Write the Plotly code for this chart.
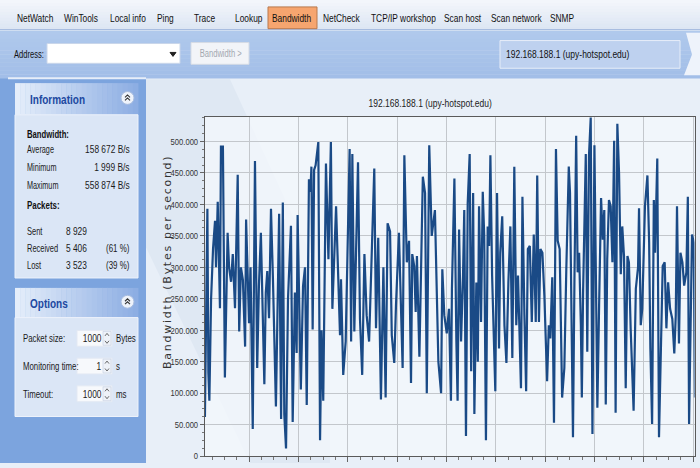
import json
import plotly.graph_objects as go

# ---------------- data ----------------
time_s = [2.0, 3.0, 3.4, 3.8, 4.5, 5.3, 6.1, 6.5, 7.2, 7.7, 8.1, 8.5, 9.3, 10.1, 11.2, 11.8, 12.6, 13.3, 14.2, 15.3,
          15.9, 16.6, 17.4, 18.3, 18.7, 19.9, 20.5, 21.4, 22.3, 23.2, 23.9, 24.7, 25.4, 26.1, 26.7, 27.3, 28.0, 28.8, 29.6, 30.8,
          32.1, 32.9, 33.6, 34.2, 34.9, 35.7, 36.9, 37.6, 38.5, 39.2, 39.6, 40.9, 41.8, 42.6, 43.3, 44.2, 44.8, 45.2, 45.7, 46.3,
          46.9, 47.3, 48.0, 48.7, 49.3, 50.0, 51.1, 52.1, 53.1, 53.7, 55.2, 56.1, 56.8, 57.2, 58.1, 59.1, 60.7, 61.3, 61.8, 62.6,
          63.2, 64.1, 64.9, 65.8, 66.7, 67.6, 68.6, 69.7, 70.7, 71.4, 72.3, 73.4, 74.4, 75.3, 76.1, 77.1, 77.8, 78.8, 79.5, 80.7,
          82.2, 82.9, 83.9, 84.8, 85.6, 86.1, 86.9, 87.5, 88.0, 89.0, 90.4, 91.3, 92.0, 93.0, 94.0, 95.3, 96.7, 97.8, 98.3, 99.1,
          100.1, 101.0, 101.8, 102.2, 103.2, 104.0, 104.5, 105.1, 105.9, 106.7, 107.2, 107.9, 108.6, 109.4, 110.0, 110.8, 111.3, 112.1, 112.7, 113.2,
          114.0, 114.7, 115.3, 116.0, 116.7, 117.3, 117.8, 118.5, 119.2, 119.8, 120.5, 121.3, 121.8, 122.6, 123.5, 124.3, 125.1, 125.9, 126.7, 127.5,
          128.3, 129.0, 130.2, 130.8, 131.6, 132.3, 133.0, 133.8, 134.6, 135.4, 136.2, 136.8, 137.5, 138.1, 138.9, 139.7, 140.8, 141.5, 142.1, 142.9,
          143.6, 144.4, 145.1, 145.9, 146.9, 147.8, 148.6, 149.6, 150.1, 150.8, 151.3, 151.9, 152.6, 153.2, 153.8, 154.5, 154.9, 155.4, 156.5, 157.1,
          157.8, 158.5, 159.2, 160.0, 160.5, 161.2, 161.9, 162.7, 163.4, 164.0, 164.6, 165.2, 165.9, 166.6, 167.3, 168.0, 168.6, 169.3, 170.0, 170.7,
          171.3, 172.0, 172.7, 173.4, 174.0, 174.7, 175.9, 176.8, 177.7, 178.1, 178.8, 179.4, 180.5, 181.5, 182.2, 182.7, 183.4, 184.1, 184.6, 185.5,
          186.2, 187.0, 187.7, 188.5, 189.2, 189.9, 190.7, 191.6, 192.4, 193.0, 193.5, 194.3, 194.9, 195.7, 196.4, 197.3, 197.9, 198.4, 198.9, 199.6,
          200.3, 200.8]

bandwidth_kBps = [62, 393, 132, 88, 250, 330, 374, 300, 404, 300, 235, 492, 492, 125, 355, 300, 277, 321, 235, 447,
                  198, 300, 280, 174, 376, 211, 300, 43, 469, 140, 270, 355, 250, 114, 260, 294, 219, 393, 280, 79,
                  385, 59, 403, 66, 12, 250, 366, 54, 260, 164, 383, 106, 270, 300, 81, 440, 420, 460, 201, 455,
                  462, 480, 499, 25, 200, 88, 465, 313, 499, 234, 397, 281, 192, 281, 129, 182, 488, 182, 480, 198,
                  292, 467, 218, 129, 321, 224, 182, 318, 457, 203, 347, 90, 300, 93, 370, 357, 192, 148, 239, 355,
                  140, 478, 308, 342, 116, 321, 302, 229, 318, 158, 444, 418, 100, 494, 350, 391, 150, 100, 297, 224,
                  195, 234, 88, 266, 441, 182, 88, 360, 182, 287, 391, 32, 402, 480, 135, 418, 67, 276, 150, 397,
                  213, 420, 350, 25, 365, 334, 478, 287, 171, 103, 418, 171, 323, 381, 208, 148, 276, 365, 156, 460,
                  208, 287, 108, 412, 224, 103, 329, 334, 213, 352, 213, 446, 213, 329, 323, 255, 119, 208, 187, 284,
                  53, 488, 342, 329, 93, 140, 297, 460, 418, 161, 30, 281, 509, 292, 323, 208, 93, 260, 480, 166,
                  478, 538, 35, 494, 313, 77, 239, 410, 344, 391, 82, 313, 407, 397, 308, 501, 69, 528, 449, 289,
                  365, 318, 108, 318, 308, 203, 72, 266, 300, 394, 208, 234, 397, 446, 339, 171, 51, 407, 323, 473,
                  30, 192, 302, 308, 203, 276, 234, 218, 163, 224, 397, 179, 323, 308, 271, 292, 412, 51, 203, 352,
                  339, 93]
bandwidth_Bps = [v * 1000 for v in bandwidth_kBps]

y_tick_values = [0, 50000, 100000, 150000, 200000, 250000, 300000, 350000, 400000, 450000, 500000]
y_tick_labels = ["0", "50.000", "100.000", "150.000", "200.000", "250.000", "300.000", "350.000",
                 "400.000", "450.000", "500.000"]

chart_title = "192.168.188.1 (upy-hotspot.edu)"
y_axis_title = "Bandwidth (Bytes per second)"

menu_labels = ["NetWatch", "WinTools", "Local info", "Ping", "Trace", "Lookup", "Bandwidth",
               "NetCheck", "TCP/IP workshop", "Scan host", "Scan network", "SNMP"]
active_menu = "Bandwidth"

info_title = "Information"
bw_heading = "Bandwidth:"
bw_labels = ["Average", "Minimum", "Maximum"]
bw_values = ["158 672 B/s", "1 999 B/s", "558 874 B/s"]
pk_heading = "Packets:"
pk_labels = ["Sent", "Received", "Lost"]
pk_counts = ["8 929", "5 406", "3 523"]
pk_pcts = ["", "(61 %)", "(39 %)"]

options_title = "Options"
opt_labels = ["Packet size:", "Monitoring time:", "Timeout:"]
opt_values = ["1000", "1", "1000"]
opt_units = ["Bytes", "s", "ms"]

address_label = "Address:"
button_label = "Bandwidth >"
host_label = "192.168.188.1 (upy-hotspot.edu)"

# ---------------- layout helpers (pixel -> paper) ----------------
W, H = 700, 468
UI_FONT = "Liberation Sans, Arial, sans-serif"

# horizontal squeeze of each text (the source screenshot uses a narrow UI face)
squeeze = {}


def px(x):
    return x / W


def py(y):
    return 1 - y / H


shapes = []
annotations = []


def rect(x0, y0, x1, y1, fill, line=None, lw=1):
    shapes.append(dict(type="rect", xref="paper", yref="paper", layer="below",
                       x0=px(x0), x1=px(x1), y0=py(y1), y1=py(y0), fillcolor=fill,
                       line=dict(color=line if line else fill, width=lw if line else 0)))


def hline(x0, x1, y, color, lw=1):
    shapes.append(dict(type="line", xref="paper", yref="paper", layer="below",
                       x0=px(x0), x1=px(x1), y0=py(y), y1=py(y), line=dict(color=color, width=lw)))


def path(points, color, lw=1.2, fill=None, closed=False, layer="above"):
    d = "M " + " L ".join(f"{px(x):.5f},{py(y):.5f}" for x, y in points)
    if closed:
        d += " Z"
    shapes.append(dict(type="path", xref="paper", yref="paper", layer=layer, path=d,
                       fillcolor=fill if fill else "rgba(0,0,0,0)", line=dict(color=color, width=lw)))


def text(x, y, s, size=11, color="#1a1a1a", anchor="left", bold=False, family=UI_FONT, angle=0, sq=0.72):
    squeeze[s] = sq
    annotations.append(dict(xref="paper", yref="paper", x=px(x), y=py(y), text=f"<b>{s}</b>" if bold else s,
                            showarrow=False, xanchor=anchor, yanchor="middle", textangle=angle,
                            align=anchor if anchor in ("left", "right") else "center",
                            borderpad=0, font=dict(family=family, size=size, color=color)))


def hex2rgb(h):
    h = h.lstrip("#")
    return tuple(int(h[i:i + 2], 16) for i in (0, 2, 4))


def hgrad(x0, y0, x1, y1, c0, c1, n=24):
    a, b = hex2rgb(c0), hex2rgb(c1)
    step = (x1 - x0) / n
    for i in range(n):
        f = i / (n - 1)
        c = tuple(round(a[k] + (b[k] - a[k]) * f) for k in range(3))
        rect(x0 + i * step, y0, x0 + (i + 1) * step + 0.4, y1, "rgb(%d,%d,%d)" % c)


def vgrad(x0, y0, x1, y1, c0, c1, n=12):
    a, b = hex2rgb(c0), hex2rgb(c1)
    step = (y1 - y0) / n
    for i in range(n):
        f = i / (n - 1)
        c = tuple(round(a[k] + (b[k] - a[k]) * f) for k in range(3))
        rect(x0, y0 + i * step, x1, y0 + (i + 1) * step + 0.4, "rgb(%d,%d,%d)" % c)


# ---------------- window chrome ----------------
vgrad(0, 0, 700, 30, "#f3f6fb", "#dde6f3", n=10)
hline(0, 700, 30, "#9db5dc", 1)
vgrad(0, 31, 700, 79, "#b0c9ec", "#a2bee8", n=12)
path([(686, 33), (700, 33), (700, 76), (684, 76), (692, 55)], "#eef3fb", lw=0, fill="#eef3fb",
     closed=True, layer="below")

# menu tabs
menu_x = [16, 63, 109, 156, 193, 234, 271, 322, 370, 443, 490, 549]
for lbl, x in zip(menu_labels, menu_x):
    if lbl == active_menu:
        rect(268, 7, 317, 29, "#f6a56f", line="#b9784c", lw=1)
    text(x, 18, lbl, size=11, color="#111111", sq=0.76)

# address row
text(13, 55, address_label, size=10.5, color="#111111", sq=0.72)
rect(47, 44, 180, 64, "#ffffff", line="#c9d6ea", lw=1)
path([(170, 53), (176, 53), (173, 57)], "#222222", lw=1, fill="#222222", closed=True)
rect(191, 43, 249, 65, "#f2f4f8", line="#d5dbe5", lw=1)
text(220, 54, button_label, size=10, color="#a3a8b0", anchor="center", sq=0.76)
rect(500, 41, 680, 69, "#bed1ef", line="#e6edf8", lw=1)

# left side panel
rect(0, 79, 146, 468, "#7ca4de")
hline(8, 146, 79, "#e7eef9", 2)


def panel(y_head0, y_head1, y_body1, title):
    hgrad(15, y_head0, 138, y_head1, "#e4edfa", "#8daee3")
    rect(15, y_head1, 138, y_body1, "#dbe6f6", line="#edf2fb", lw=1)
    text(29, (y_head0 + y_head1) / 2 + 1, title, size=12.5, color="#2048a0", bold=True, sq=0.8)
    cx, cy = 127.5, (y_head0 + y_head1) / 2 - 1
    shapes.append(dict(type="circle", xref="paper", yref="paper", layer="above",
                       x0=px(cx - 6.5), x1=px(cx + 6.5), y0=py(cy + 6.5), y1=py(cy - 6.5),
                       fillcolor="#eef3fb", line=dict(color="#a8bde0", width=1)))
    path([(125, cy - 0.5), (127.5, cy - 3), (130, cy - 0.5)], "#333333", lw=1.1)
    path([(125, cy + 2.5), (127.5, cy), (130, cy + 2.5)], "#333333", lw=1.1)


panel(84, 116, 281, info_title)
text(26, 135, bw_heading, size=11, color="#111111", bold=True, sq=0.7)
for i, (lbl, val) in enumerate(zip(bw_labels, bw_values)):
    y = 151 + i * 18
    text(26, y, lbl, size=11, sq=0.66)
    text(131, y, val, size=11, anchor="right", sq=0.76)
text(26, 207, pk_heading, size=11, color="#111111", bold=True, sq=0.72)
for i, (lbl, cnt, pct) in enumerate(zip(pk_labels, pk_counts, pk_pcts)):
    y = 233 + i * 17.6
    text(26, y, lbl, size=11, sq=0.68)
    text(65, y, cnt, size=11, sq=0.76)
    if pct:
        text(130, y, pct, size=11, anchor="right", sq=0.72)

panel(291, 321, 421, options_title)
for i, (lbl, val, unit) in enumerate(zip(opt_labels, opt_values, opt_units)):
    y = 342 + i * 28
    text(22, y, lbl, size=11, sq=0.71)
    rect(77, y - 8, 112, y + 8, "#f7f9fc", line="#e3e9f3", lw=1)
    rect(103, y - 7, 111, y + 7, "#eef2f8", line="#c3cfe2", lw=0.6)
    path([(105, y - 2.5), (107, y - 5), (109, y - 2.5)], "#444444", lw=0.8)
    path([(105, y + 2.5), (107, y + 5), (109, y + 2.5)], "#444444", lw=0.8)
    text(102, y, val, size=11, anchor="right", sq=0.76)
    text(115, y, unit, size=11, sq=0.72)

# chart area background (with a faint watermark)
rect(146, 80, 700, 468, "#e8eff8")
path([(146, 80), (230, 80), (330, 300), (330, 468), (250, 468), (146, 250)], "#dfe8f3", lw=0,
     fill="#dfe8f3", closed=True, layer="below")
rect(205, 118, 694.5, 461, "rgba(244,248,252,0.75)")

# ---------------- chart ----------------
fig = go.Figure()
fig.add_trace(go.Scatter(x=time_s, y=bandwidth_Bps, mode="lines",
                         line=dict(color="#1a4a86", width=2.2), hoverinfo="skip", showlegend=False))

text(429.5, 104, chart_title, size=10.5, color="#222222", anchor="center", sq=0.81)
text(167.5, 266, y_axis_title, size=11, color="#333333", anchor="center",
     family="DejaVu Sans, Verdana, sans-serif", angle=-90, sq=1.28)
text(505, 55, host_label, size=10.5, color="#111111", sq=0.81)
for lbl in y_tick_labels:
    squeeze[lbl] = 0.8

fig.update_layout(
    width=W, height=H, autosize=False,
    margin=dict(l=0, r=0, t=0, b=0),
    paper_bgcolor="#e8eff8", plot_bgcolor="rgba(0,0,0,0)",
    shapes=shapes, annotations=annotations,
    xaxis=dict(domain=[205 / W, 694.5 / W], range=[2.03, 200.6], showticklabels=False,
               tick0=0, dtick=20, ticks="outside", ticklen=5, tickcolor="#666666",
               minor=dict(dtick=5, ticks="outside", ticklen=3, tickcolor="#777777", showgrid=False),
               showgrid=True, gridcolor="#c3c7cc", gridwidth=1, zeroline=False,
               showline=True, linecolor="#5a5a5a", linewidth=1, mirror=True, fixedrange=True),
    yaxis=dict(domain=[1 - 461 / H, 1 - 118 / H], range=[0, 539300],
               tickvals=y_tick_values, ticktext=y_tick_labels, ticks="outside", ticklen=4,
               tickcolor="#666666",
               minor=dict(dtick=12500, ticks="outside", ticklen=2, tickcolor="#777777", showgrid=False),
               tickfont=dict(family=UI_FONT, size=9.5, color="#333333"),
               showgrid=True, gridcolor="#c3c7cc", gridwidth=1, zeroline=False,
               showline=True, linecolor="#5a5a5a", linewidth=1, mirror=True, fixedrange=True),
)

post_js = """
document.body.style.margin = '0';
document.body.style.overflow = 'hidden';
var F = %s;
var gd = document.querySelector('.plotly-graph-div');
gd.querySelectorAll('text').forEach(function (t) {
  var s = t.textContent;
  if (!s || !(s in F)) return;
  var L = t.getComputedTextLength();
  if (!L) return;
  t.setAttribute('textLength', (L * F[s]).toFixed(2));
  t.setAttribute('lengthAdjust', F[s] < 1 ? 'spacingAndGlyphs' : 'spacing');
});
""" % json.dumps(squeeze)

fig.write_html("out.html", post_script=post_js, config={"displayModeBar": False, "staticPlot": True})
